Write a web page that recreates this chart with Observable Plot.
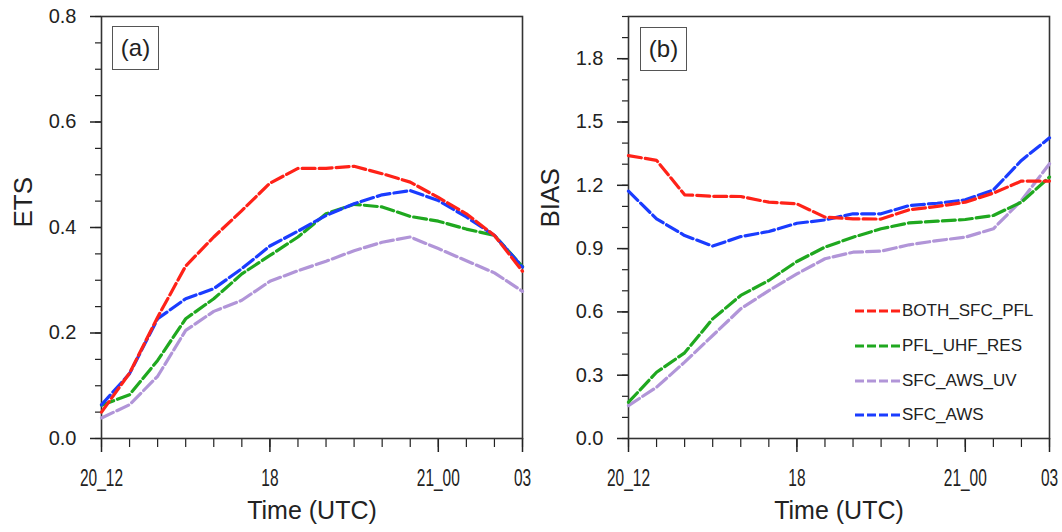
<!DOCTYPE html>
<html><head><meta charset="utf-8">
<script src="https://cdn.jsdelivr.net/npm/d3@7"></script>
<script src="https://cdn.jsdelivr.net/npm/@observablehq/plot@0.6"></script>
<style>
body{margin:0;background:#fff;font-family:"Liberation Sans",Arial,sans-serif;color:#222;}
#wrap{position:relative;width:1062px;height:532px;overflow:hidden;background:#fff;}
.panel{position:absolute;top:0;}
.tag{position:absolute;box-sizing:border-box;border:1.3px solid #555;font-size:24px;display:flex;align-items:center;justify-content:center;background:#fff;}
.legend{position:absolute;left:855px;top:294px;font-size:17px;}
.legend .row{display:flex;align-items:center;height:34.7px;}
.legend svg{display:block;}
</style></head>
<body><div id="wrap"></div>
<script>
// ---- data ----
const timeLabels = ["20_12","13","14","15","16","17","18","19","20","21","22","23","21_00","01","02","03"];
const xMajorTicks = [0, 6, 12, 15];
const seriesNames = ["BOTH_SFC_PFL", "PFL_UHF_RES", "SFC_AWS_UV", "SFC_AWS"];
const seriesColors = ["#ff2218", "#1fa81f", "#b195d8", "#1a3cff"];

// (a) ETS
const etsBoth = [0.050,0.124,0.230,0.327,0.382,0.432,0.484,0.512,0.512,0.516,0.502,0.486,0.457,0.426,0.385,0.317];
const etsPfl  = [0.063,0.083,0.148,0.227,0.265,0.312,0.347,0.382,0.426,0.444,0.439,0.421,0.412,0.397,0.385,0.326];
const etsUv   = [0.039,0.064,0.118,0.205,0.241,0.262,0.298,0.318,0.336,0.356,0.372,0.382,0.360,0.337,0.314,0.279];
const etsAws  = [0.064,0.123,0.227,0.265,0.284,0.322,0.365,0.393,0.423,0.445,0.462,0.470,0.451,0.420,0.385,0.325];

// (b) BIAS
const biasBoth = [1.341,1.318,1.155,1.148,1.147,1.120,1.112,1.049,1.041,1.040,1.084,1.100,1.120,1.163,1.220,1.220];
const biasPfl  = [0.172,0.314,0.406,0.567,0.678,0.749,0.839,0.907,0.954,0.994,1.022,1.030,1.038,1.057,1.120,1.239];
const biasUv   = [0.156,0.243,0.362,0.488,0.615,0.701,0.780,0.852,0.883,0.888,0.918,0.938,0.954,0.994,1.128,1.302];
const biasAws  = [1.172,1.041,0.962,0.912,0.957,0.981,1.020,1.036,1.065,1.065,1.104,1.115,1.131,1.178,1.318,1.425];

const etsMajor = [0, 0.2, 0.4, 0.6, 0.8];
const biasMajor = [0, 0.3, 0.6, 0.9, 1.2, 1.5, 1.8];
const xLabel = "Time (UTC)";

// ---- build ----
const drawOrder = [2, 1, 3, 0]; // purple, green, blue, red on top
function tidy(arrs) {
  const rows = [];
  for (const k of drawOrder) arrs[k].forEach((v, i) => rows.push({t: i, v, s: seriesNames[k]}));
  return rows;
}

function makePanel({arrs, yDomain, major, minorStep, yLabel, marginLeft, marginRight}) {
  const minor = d3.range(0, yDomain[1] + 1e-9, minorStep);
  const svg = Plot.plot({
    width: 531, height: 532,
    marginLeft, marginRight, marginTop: 16, marginBottom: 94,
    x: {domain: [0, 15]},
    y: {domain: yDomain},
    color: {domain: seriesNames, range: seriesColors},
    style: {fontFamily: "'Liberation Sans', Arial, sans-serif", color: "#222", background: "transparent", overflow: "visible"},
    marks: [
      Plot.axisY(minor, {tickSize: 6, fill: "none", strokeWidth: 1.2, label: null, tickFormat: () => ""}),
      Plot.axisY(major, {tickSize: 11, tickPadding: 14, fontSize: 20, strokeWidth: 1.5, label: null, tickFormat: d3.format(".1f")}),
      Plot.axisX(d3.range(0, 16), {tickSize: 9, fill: "none", strokeWidth: 1.2, label: null, tickFormat: () => ""}),
      Plot.axisX(xMajorTicks, {tickSize: 14, strokeWidth: 1.5, label: null, tickFormat: () => ""}),
      Plot.text(xMajorTicks, {x: d => d, text: i => timeLabels[i], frameAnchor: "bottom", dy: 40, fontSize: 23, lineAnchor: "middle", className: "xtl"}),
      Plot.frame({stroke: "#333", strokeWidth: 1.6}),
      Plot.line(tidy(arrs), {x: "t", y: "v", z: "s", stroke: "s", strokeWidth: 3.2, strokeDasharray: "13,4", curve: "linear"}),
      Plot.text([yLabel], {text: d => d, frameAnchor: "left", dx: -78, rotate: -90, fontSize: 26}),
      Plot.text([xLabel], {text: d => d, frameAnchor: "bottom", dy: 80, fontSize: 25})
    ]
  });
  // condense x tick labels horizontally (glyph compression keeps anchor)
  d3.select(svg).selectAll('.xtl text').each(function() {
    const n = this.textContent.length;
    this.setAttribute("textLength", (n * 8.6).toFixed(1));
    this.setAttribute("lengthAdjust", "spacingAndGlyphs");
  });
  return svg;
}

const wrap = document.getElementById("wrap");

const pa = makePanel({arrs: [etsBoth, etsPfl, etsUv, etsAws], yDomain: [0, 0.8], major: etsMajor, minorStep: 0.05, yLabel: "ETS", marginLeft: 101, marginRight: 9});
const da = document.createElement("div"); da.className = "panel"; da.style.left = "0px"; da.appendChild(pa); wrap.appendChild(da);

const pb = makePanel({arrs: [biasBoth, biasPfl, biasUv, biasAws], yDomain: [0, 2.0], major: biasMajor, minorStep: 0.1, yLabel: "BIAS", marginLeft: 97, marginRight: 13});
const db = document.createElement("div"); db.className = "panel"; db.style.left = "531px"; db.appendChild(pb); wrap.appendChild(db);

// panel tags
[["(a)", 112, 26], ["(b)", 640, 27]].forEach(([t, l, tp]) => {
  const d = document.createElement("div");
  d.className = "tag"; d.textContent = t;
  d.style.left = l + "px"; d.style.top = tp + "px"; d.style.width = "47px"; d.style.height = "44px";
  wrap.appendChild(d);
});

// legend
const lg = document.createElement("div"); lg.className = "legend";
seriesNames.forEach((name, k) => {
  const row = document.createElement("div"); row.className = "row";
  const s = d3.create("svg").attr("width", 47).attr("height", 6);
  s.append("line").attr("x1", 0).attr("x2", 47).attr("y1", 3).attr("y2", 3)
    .attr("stroke", seriesColors[k]).attr("stroke-width", 3).attr("stroke-dasharray", "9,3");
  row.appendChild(s.node());
  const sp = document.createElement("span"); sp.textContent = name;
  row.appendChild(sp);
  lg.appendChild(row);
});
wrap.appendChild(lg);
</script>
</body></html>
